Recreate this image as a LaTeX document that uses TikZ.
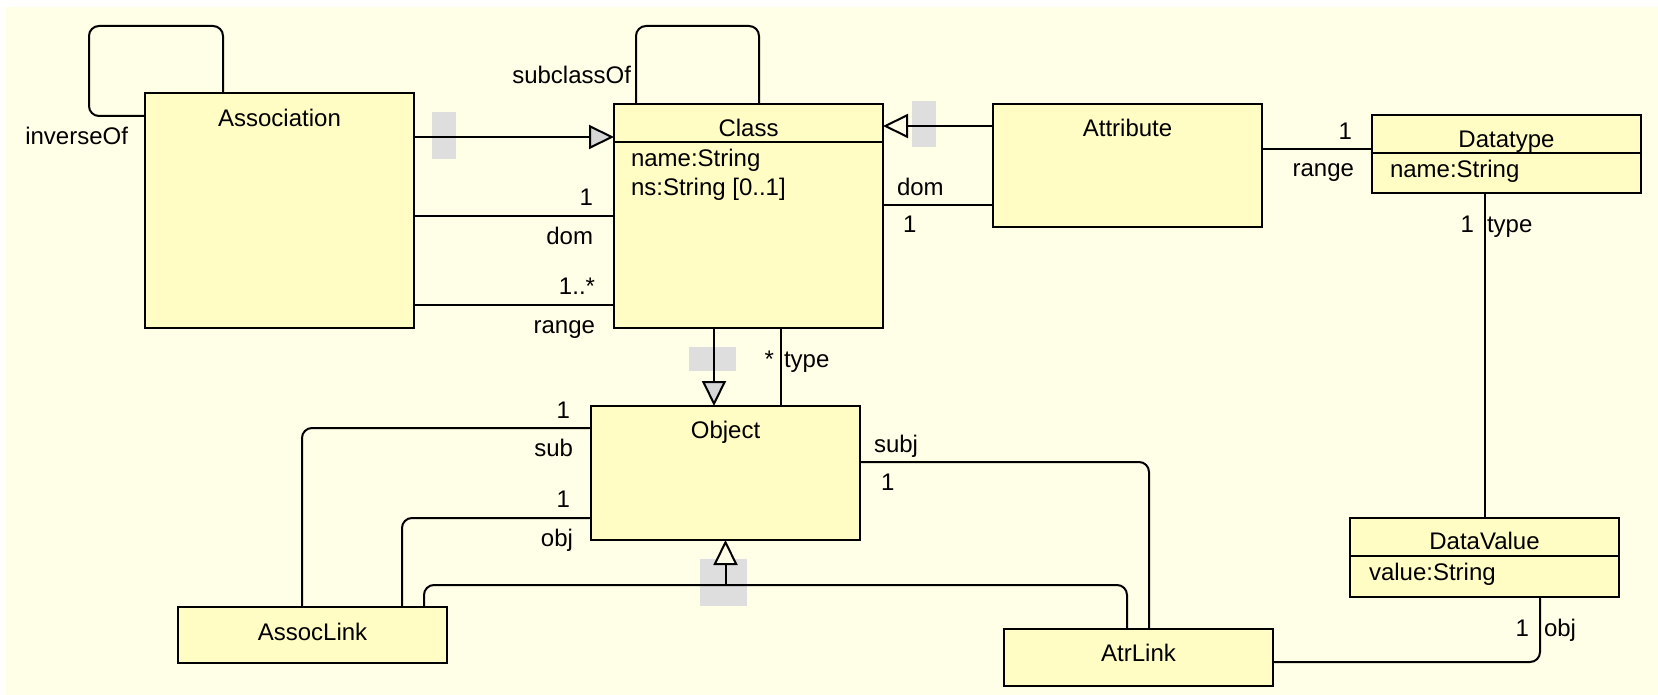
\documentclass[tikz,border=0pt]{standalone}
\usepackage{fontspec}
\setmainfont{Liberation Sans}
\usepackage{tikz}
\usetikzlibrary{arrows.meta}
\usetikzlibrary{positioning}
\definecolor{bgcream}{RGB}{255,254,230}
\definecolor{boxfill}{RGB}{255,252,196}
\definecolor{selgrey}{RGB}{222,222,222}
\definecolor{tipgrey}{RGB}{214,214,214}
\tikzset{every picture/.style={line width=1pt}}
\tikzset{
  umlbox/.style={draw, fill=boxfill, anchor=north west, inner sep=0pt, outer sep=0pt, minimum width=134.5pt},
  boxtitle/.style={inner sep=0pt, text height=9pt, text depth=2.5pt, font=\fontsize{12}{14}\selectfont},
  attrtext/.style={boxtitle, anchor=west},
  role/.style={boxtitle},
  genarrow/.style={-{Triangle[length=12.5pt, width=12pt, fill=#1]}},
  genarrow/.default=bgcream,
  link/.style={rounded corners=5pt}
}

\begin{document}
\begin{tikzpicture}[x=0.5pt,y=0.5pt,yscale=-1,xscale=1]
\useasboundingbox (0,0) rectangle (1658,695);

%Shape: Background
\fill[bgcream] (6,7) rectangle (1658,695);

%Shape: Selection marks
\fill[selgrey] (432,112) rectangle (456,159);
\fill[selgrey] (912,101) rectangle (936,147);
\fill[selgrey] (689,347) rectangle (736,371);
\fill[selgrey] (700,559) rectangle (747,606);

%Shape: Class boxes
\node[umlbox, minimum height=117.5pt] (assoc) at (145,93) {};
\node[umlbox, minimum height=112pt] (cls) at (614,104) {};
\node[umlbox, minimum height=61.5pt] (attr) at (993,104) {};
\node[umlbox, minimum height=39pt] (dtype) at (1372,115) {};
\node[umlbox, minimum height=67pt] (obj) at (591,406) {};
\node[umlbox, minimum height=28pt] (alink) at (178,607) {};
\node[umlbox, minimum height=28.5pt] (atrlink) at (1004,629) {};
\node[umlbox, minimum height=39.5pt] (dval) at (1350,518) {};

%Straight Lines: compartment separators
\draw (cls.west |- 0,142) -- (cls.east |- 0,142);
\draw (dtype.west |- 0,153) -- (dtype.east |- 0,153);
\draw (dval.west |- 0,556) -- (dval.east |- 0,556);

% Text Node
\node[boxtitle] (assoct) at (assoc.north |- 0,120) {Association};
% Text Node
\node[boxtitle] (clst) at (cls.north |- 0,130) {Class};
% Text Node
\node[attrtext] (clsname) at (630,160) {name:String};
% Text Node
\node[attrtext] (clsns) at (630,189) {ns:String [0..1]};
% Text Node
\node[boxtitle] (attrt) at (attr.north |- 0,130) {Attribute};
% Text Node
\node[boxtitle] (dtypet) at (dtype.north |- 0,141) {Datatype};
% Text Node
\node[attrtext] (dtypename) at (1389,171) {name:String};
% Text Node
\node[boxtitle] (objt) at (obj.north |- 0,432) {Object};
% Text Node
\node[boxtitle] (alinkt) at (alink.north |- 0,634) {AssocLink};
% Text Node
\node[boxtitle] (atrlinkt) at (atrlink.north |- 0,655) {AtrLink};
% Text Node
\node[boxtitle] (dvalt) at (dval.north |- 0,543) {DataValue};
% Text Node
\node[attrtext] (dvalvalue) at (1368,574) {value:String};

%Straight Lines: generalizations
\draw[genarrow=tipgrey] (assoc.east |- 0,137) -- (cls.west |- 0,137);
\draw[genarrow] (attr.west |- 0,126) -- (cls.east |- 0,126);
\draw[genarrow=tipgrey] (cls.south -| 714,0) -- (obj.north -| 714,0);
\coordinate (genjoin) at (obj.south |- 0,585);
\draw[genarrow] (genjoin) -- (obj.south);
\draw[link] (alink.north -| 424,0) -- (424,585) -- (1127,585) -- (atrlink.north -| 1127,0);

%Curve Lines: self associations
\draw[link] (assoc.west |- 0,116) -- (89,116) -- (89,26) -- (223,26) -- (assoc.north -| 223,0);
\draw[link] (cls.north -| 636,0) -- (636,26) -- (759,26) -- (cls.north -| 759,0);

%Straight Lines: associations
\draw (assoc.east |- 0,216) -- (cls.west |- 0,216);
\draw (assoc.east |- 0,305) -- (cls.west |- 0,305);
\draw (cls.east |- 0,205) -- (attr.west |- 0,205);
\draw (attr.east |- 0,149) -- (dtype.west |- 0,149);
\draw (cls.south -| 781,0) -- (obj.north -| 781,0);
\draw (dval.north |- dtype.south) -- (dval.north);
\draw[link] (obj.west |- 0,428) -- (302,428) -- (alink.north -| 302,0);
\draw[link] (obj.west |- 0,518) -- (402,518) -- (alink.north -| 402,0);
\draw[link] (obj.east |- 0,462) -- (1149,462) -- (atrlink.north -| 1149,0);
\draw[link] (atrlink.east |- 0,662) -- (1540,662) -- (dval.south -| 1540,0);

% Text Node
\node[role, anchor=east] (invlbl) at (129,138) {inverseOf};
\node[role, anchor=east] (sublbl) at (632,77) {subclassOf};
% Text Node
\node[role, anchor=east] (adommult) at (594,199) {1};
\node[role, anchor=east] (adomrole) at (594,238) {dom};
\node[role, anchor=east] (arngmult) at (596,288) {1..*};
\node[role, anchor=east] (arngrole) at (596,327) {range};
% Text Node
\node[role, anchor=west] (tdomrole) at (896,189) {dom};
\node[role, anchor=west] (tdommult) at (902,226) {1};
\node[role, anchor=east] (trngmult) at (1353,133) {1};
\node[role, anchor=east] (trngrole) at (1355,170) {range};
% Text Node
\node[role, anchor=east] (dtmult) at (1475,226) {1};
\node[role, anchor=west] (dtrole) at (1486,226) {type};
% Text Node
\node[role, anchor=east] (submult) at (571,412) {1};
\node[role, anchor=east] (subrole) at (574,450) {sub};
\node[role, anchor=east] (objmult) at (571,501) {1};
\node[role, anchor=east] (objrole) at (574,540) {obj};
% Text Node
\node[role, anchor=east] (typemult) at (775,361) {*};
\node[role, anchor=west] (typerole) at (783,361) {type};
\node[role, anchor=west] (subjrole) at (873,446) {subj};
\node[role, anchor=west] (subjmult) at (880,484) {1};
% Text Node
\node[role, anchor=east] (dvmult) at (1530,630) {1};
\node[role, anchor=west] (dvrole) at (1543,630) {obj};

\end{tikzpicture}
\end{document}
